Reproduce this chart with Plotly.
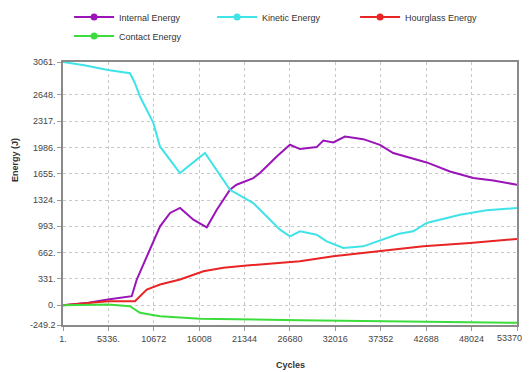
import plotly.graph_objects as go

# Cycles sample positions for each series
internal_x = [1, 3000, 5290, 8080, 8670, 9850, 11410, 12590, 13760, 15330, 16900, 18080,
              19630, 20400, 22370, 23150, 25130, 26680, 27860, 29820, 30600, 31770, 33150,
              35300, 37260, 38820, 40000, 41180, 42750, 45490, 48230, 50580, 53370]
internal_y = [0, 30, 72, 113, 323, 616, 993, 1161, 1224, 1077, 980, 1202,
              1453, 1516, 1600, 1663, 1872, 2019, 1965, 1990, 2073, 2048, 2123,
              2090, 2019, 1915, 1880, 1852, 1797, 1683, 1600, 1570, 1516]

kinetic_x = [1, 2500, 5290, 7877, 8460, 9050, 10620, 11400, 13750, 16690, 19630, 22370,
             25510, 26680, 27860, 29820, 31000, 32950, 35300, 38060, 39500, 41180, 42750,
             46670, 49800, 53370]
kinetic_y = [3061, 3020, 2961, 2920, 2794, 2626, 2295, 1998, 1663, 1915, 1453, 1286,
             951, 867, 930, 888, 804, 721, 741, 847, 900, 930, 1035,
             1139, 1194, 1224]

hourglass_x = [1, 5290, 8460, 9850, 11410, 13760, 16510, 18860, 21600, 25510, 27860,
               31770, 37260, 42360, 47850, 53370]
hourglass_y = [0, 50, 50, 197, 260, 323, 427, 470, 499, 533, 553,
               616, 678, 741, 784, 834]

contact_x = [1, 5290, 7877, 9050, 11410, 16100, 27860, 40000, 53370]
contact_y = [0, 9, -12, -95, -138, -171, -188, -205, -221]

y_ticks = [3061, 2648, 2317, 1986, 1655, 1324, 993, 662, 331, 0, -249.2]
y_tick_text = ["3061.", "2648.", "2317.", "1986.", "1655.", "1324.", "993.", "662.", "331.", "0.", "-249.2"]
x_ticks = [1, 5336, 10672, 16008, 21344, 26680, 32016, 37352, 42688, 48024, 53370]
x_tick_text = ["1.", "5336.", "10672", "16008", "21344", "26680", "32016", "37352", "42688", "48024", "53370"]

fig = go.Figure()
series = [
    ("Internal Energy", internal_x, internal_y, "#9A14B8"),
    ("Kinetic Energy", kinetic_x, kinetic_y, "#3FE3E8"),
    ("Hourglass Energy", hourglass_x, hourglass_y, "#E82424"),
    ("Contact Energy", contact_x, contact_y, "#3DDC3D"),
]
for name, xs, ys, c in series:
    fig.add_trace(go.Scatter(x=xs, y=ys, name=name, mode="lines", showlegend=False,
                             line=dict(color=c, width=2)))
for name, xs, ys, c in series:
    fig.add_trace(go.Scatter(x=[None], y=[None], name=name, mode="lines+markers",
                             line=dict(color=c, width=2), marker=dict(size=7, color=c)))

# last x tick label drawn shifted left so it stays inside the page
shown_text = x_tick_text[:-1] + [""]

fig.update_layout(
    width=522, height=364,
    margin=dict(l=55, r=13, t=54, b=47, autoexpand=False),
    paper_bgcolor="white", plot_bgcolor="white",
    font=dict(family="Liberation Sans, Arial", size=9, color="#444"),
    showlegend=True,
    legend=dict(orientation="h", x=0.117, y=1.226, xanchor="left", yanchor="top",
                xref="container", yref="paper", entrywidth=88, entrywidthmode="pixels",
                font=dict(size=9, color="#333"), tracegroupgap=0,
                itemwidth=40, bgcolor="rgba(0,0,0,0)"),
    xaxis=dict(range=[1, 53370], tickvals=x_ticks, ticktext=shown_text,
               showgrid=True, gridcolor="#c8c8c8", griddash="dot", gridwidth=1,
               showline=True, linecolor="#8a8a8a", linewidth=1.5, mirror=True,
               ticks="outside", ticklen=4, tickcolor="#999", zeroline=False),
    yaxis=dict(range=[-249.2, 3061], tickvals=y_ticks, ticktext=y_tick_text,
               showgrid=True, gridcolor="#c8c8c8", griddash="dot", gridwidth=1,
               showline=True, linecolor="#8a8a8a", linewidth=1.5, mirror=True,
               ticks="outside", ticklen=4, tickcolor="#999", zeroline=False),
    annotations=[
        dict(text=x_tick_text[-1], x=53370, xref="x", y=0, yref="paper",
             yanchor="top", xanchor="center", xshift=-8, yshift=-6,
             showarrow=False, font=dict(size=9, color="#444")),
        dict(text="<b>Cycles</b>", x=0.5, xref="paper", y=-0.152, yref="paper",
             xanchor="center", yanchor="middle", showarrow=False,
             font=dict(size=9, color="#333")),
        dict(text="<b>Energy (J)</b>", x=-0.106, xref="paper", y=0.627, yref="paper",
             xanchor="center", yanchor="middle", textangle=-90, showarrow=False,
             font=dict(size=9, color="#333")),
    ],
)
fig.write_html("out.html")
